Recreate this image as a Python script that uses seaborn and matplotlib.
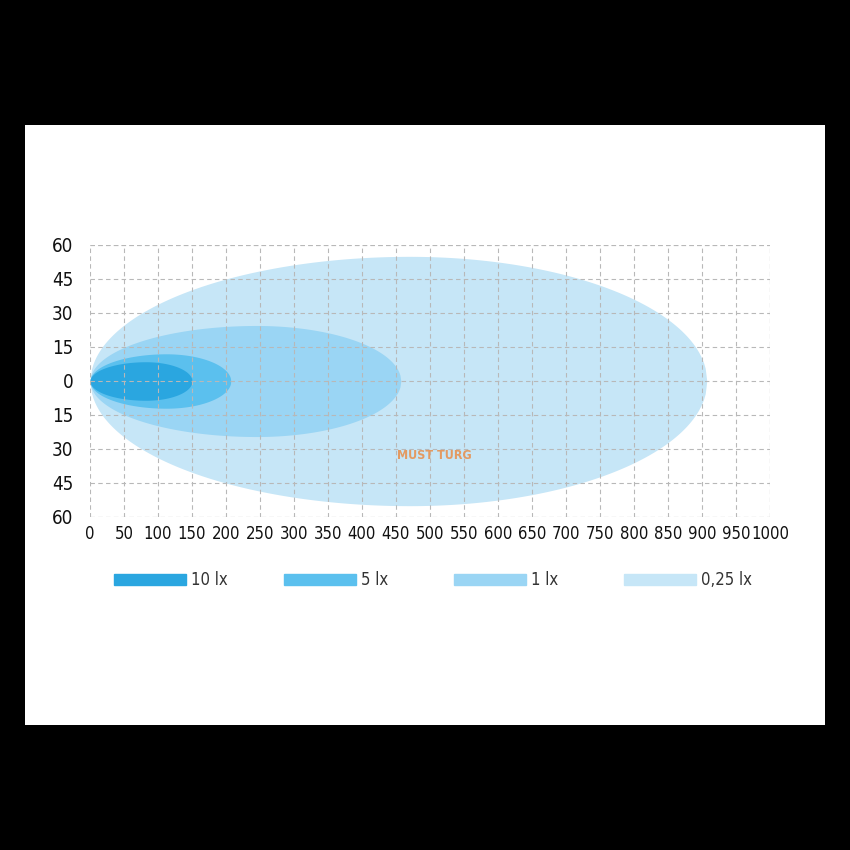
import matplotlib
matplotlib.use("Agg")
import matplotlib.pyplot as plt
import matplotlib.patches as mpatches
from matplotlib.ticker import FuncFormatter
import numpy as np
import seaborn as sns

# beam pattern: reach (m), widest point (m), half width
levels = ["10 lx", "5 lx", "1 lx", "0,25 lx"]
reach = [150, 207, 457, 907]
peak_x = [82, 112, 245, 470]
half_width = [8.5, 12, 24.5, 55]
colors = ["#2aa6e0", "#5bc0ee", "#9ad5f4", "#c6e6f7"]

x_ticks = list(range(0, 1001, 50))
y_ticks = [-60, -45, -30, -15, 0, 15, 30, 45, 60]


def outline(L, xm, W):
    # two half ellipses joined at the widest point
    xs = np.linspace(0, L, 400)
    w = np.where(
        xs <= xm,
        W * np.sqrt(np.clip(1 - ((xm - xs) / xm) ** 2, 0, 1)),
        W * np.sqrt(np.clip(1 - ((xs - xm) / (L - xm)) ** 2, 0, 1)),
    )
    return xs, w


sns.set_style("white")
plt.rcParams["font.family"] = ["DejaVu Sans"]
plt.rcParams["font.stretch"] = "condensed"

fig = plt.figure(figsize=(8.5, 8.5), dpi=100, facecolor="black")

# white card behind the chart
bg = fig.add_axes([25 / 850, 125 / 850, 800 / 850, 600 / 850], zorder=-1)
bg.set_facecolor("white")
bg.set_xticks([])
bg.set_yticks([])
for s in bg.spines.values():
    s.set_visible(False)

ax = fig.add_axes([90 / 850, 333 / 850, 680 / 850, 272 / 850], zorder=1)
ax.set_facecolor("none")

# biggest first so smaller ones sit on top
for lvl, L, xm, W, c in reversed(list(zip(levels, reach, peak_x, half_width, colors))):
    xs, w = outline(L, xm, W)
    ax.fill_between(xs, -w, w, color=c, lw=0, zorder=1)

ax.set_xlim(0, 1000)
ax.set_ylim(-60, 60)
ax.set_xticks(x_ticks)
ax.set_yticks(y_ticks)
ax.yaxis.set_major_formatter(FuncFormatter(lambda v, p: f"{abs(int(v))}"))
ax.tick_params(length=0, colors="#111111")
ax.tick_params(axis="y", pad=12, labelsize=13.5)
ax.tick_params(axis="x", pad=6, labelsize=12)
grid_kw = dict(color="#b8b8b8", ls=(0, (4, 3)), lw=0.8, zorder=3)
ax.grid(True, **grid_kw)
ax.set_axisbelow(False)
for s in ax.spines.values():
    s.set_visible(False)
ax.axhline(60, **grid_kw)
ax.axhline(-60, **grid_kw)
ax.axvline(1000, **grid_kw)

# watermark
ax.text(507, -33, "MUST TURG", color="#e39a62", fontsize=9, fontweight="bold",
        ha="center", va="center", zorder=4)

# legend row
leg_x = [114, 284, 454, 624]
for lvl, c, lx in zip(levels, colors, leg_x):
    fig.patches.append(mpatches.Rectangle((lx / 850, (850 - 585) / 850), 72 / 850, 11 / 850,
                                          transform=fig.transFigure, color=c, zorder=2))
    fig.text((lx + 77) / 850, (850 - 580) / 850, lvl, fontsize=12, color="#333333",
             va="center", ha="left")

fig.savefig("out.png", dpi=100, facecolor="black")
